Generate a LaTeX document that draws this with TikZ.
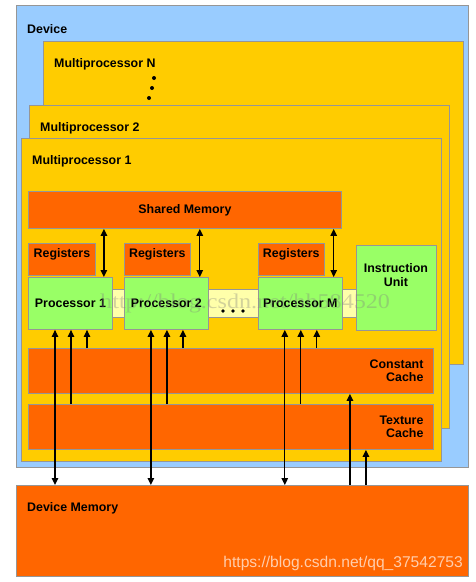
\documentclass[tikz,border=0pt]{standalone}
\usepackage{fontspec}
\setmainfont{Liberation Sans}
\newfontfamily\wmserif{Liberation Serif}
\usepackage{tikz}
\usetikzlibrary{arrows.meta, positioning}
\definecolor{devblue}{RGB}{153,204,255}
\definecolor{mpyellow}{RGB}{255,204,0}
\definecolor{memorange}{RGB}{255,102,0}
\definecolor{procgreen}{RGB}{153,255,102}
\definecolor{striplight}{RGB}{255,255,170}
\definecolor{framegray}{RGB}{150,150,150}
\definecolor{wmpeach}{RGB}{255,205,172}

\begin{document}
\begin{tikzpicture}[
      x=1pt, y=-1pt,
      font=\fontsize{12.4}{13.5}\selectfont\bfseries,
      box/.style={rectangle, draw=framegray, line width=0.9pt, anchor=north west, inner sep=0pt},
      mp/.style={box, fill=mpyellow, minimum width=420pt, minimum height=323pt},
      mem/.style={box, fill=memorange},
      proc/.style={box, fill=procgreen, minimum width=84pt, minimum height=52pt},
      reg/.style={mem, minimum width=66pt, minimum height=32pt, text height=9pt, text depth=14pt},
      cache/.style={mem, minimum width=405pt, minimum height=45pt, text width=385pt, align=right},
      txt/.style={inner sep=0pt},
      arr/.style={-{Triangle[length=7pt,width=6.5pt]}, line width=1.3pt},
      biarr/.style={{Triangle[length=7pt,width=6.5pt]}-{Triangle[length=7pt,width=6.5pt]}, line width=1.3pt},
    ]
    \useasboundingbox (0,0) rectangle (475,582);

    % device and the stacked multiprocessors
    \node[box, fill=devblue, minimum width=452pt, minimum height=462pt] (device) at (16,5) {};
    \node[txt, anchor=base west] (devlbl) at (27,33) {Device};
    \node[mp] (mpN) at (43,41) {};
    \node[txt, anchor=base west] (mpNlbl) at (54,67) {Multiprocessor N};
    \fill (154,78) circle (2pt) (152,88) circle (2pt) (149,98) circle (2pt);
    \node[mp] (mp2) at (29,105) {};
    \node[txt, anchor=base west] (mp2lbl) at (40,131) {Multiprocessor 2};
    \node[mp] (mp1) at (21,138) {};
    \node[txt, anchor=base west] (mp1lbl) at (32,164) {Multiprocessor 1};

    \node[mem, minimum width=313pt, minimum height=37pt] (shared) at (28,191) {Shared Memory};

    % processor row
    \node[box, fill=striplight, minimum width=244pt, minimum height=28pt] (strip) at (112,289) {};
    \node[proc] (proc1) at (28,277) {Processor 1};
    \node[proc, right=11pt of proc1] (proc2) {Processor 2};
    \node[proc, right=49pt of proc2] (procM) {Processor M};
    \node[reg, above=1pt of proc1.north west, anchor=south west, minimum width=67pt] (reg1) {Registers};
    \node[reg, above=1pt of proc2.north west, anchor=south west] (reg2) {Registers};
    \node[reg, above=1pt of procM.north west, anchor=south west] (regM) {Registers};
    \fill (223,311) circle (1.8pt) (233,311) circle (1.8pt) (243,311) circle (1.8pt);
    \node[box, fill=procgreen, minimum width=80pt, minimum height=85pt] (instr) at (356,245) {};
    \node[txt, align=center] (instrlbl) at (396,275) {Instruction\\Unit};

    \node[cache] (const) at (28,348) {Constant\\Cache};
    \node[cache] (tex) at (28,404) {Texture\\Cache};

    \node[mem, minimum width=452pt, minimum height=91pt] (devmem) at (16,485) {};
    \node[txt, anchor=base west] (devmemlbl) at (27,511) {Device Memory};

    % connections
    \foreach \p in {proc1,proc2,procM} {
      \draw[biarr] ([xshift=-9pt]\p.north east |- shared.south) -- ([xshift=-9pt]\p.north east);
      \draw[biarr] ([xshift=27pt]\p.south west) -- ([xshift=27pt]\p.south west |- devmem.north);
      \draw[arr] ([xshift=43pt]\p.south west |- tex.north) -- ([xshift=43pt]\p.south west);
      \draw[arr] ([xshift=59pt]\p.south west |- const.north) -- ([xshift=59pt]\p.south west);
    }
    \draw[arr] ([xshift=-84pt]const.south east |- devmem.north) -- ([xshift=-84pt]const.south east);
    \draw[arr] ([xshift=-68pt]tex.south east |- devmem.north) -- ([xshift=-68pt]tex.south east);

    % watermarks
    \node[txt, anchor=base west, font=\wmserif\fontsize{21}{21}\selectfont, text=gray, opacity=0.35, xscale=1.15] (wmold) at (100,308) {http://blog.csdn.net/hh584520};
    \node[txt, anchor=base east, font=\mdseries\fontsize{15.6}{16}\selectfont, text=wmpeach] (wmnew) at (463,567) {https://blog.csdn.net/qq\_37542753};
  \end{tikzpicture}
\end{document}
